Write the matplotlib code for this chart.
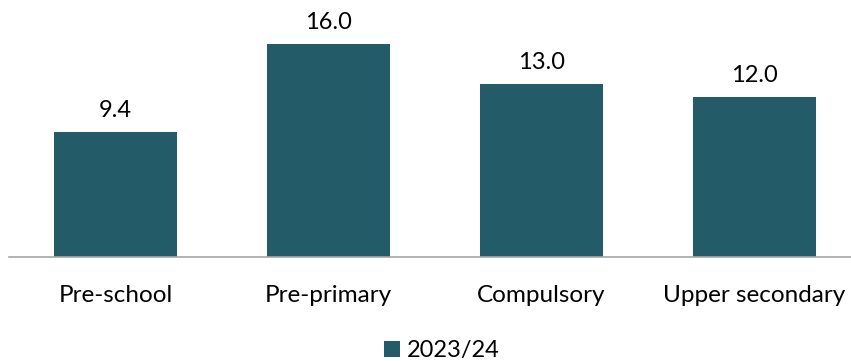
import matplotlib
matplotlib.use("Agg")
import matplotlib.pyplot as plt
import numpy as np

categories = ["Pre-school", "Pre-primary", "Compulsory", "Upper secondary"]
values = [9.4, 16.0, 13.0, 12.0]
series_name = "2023/24"

BAR_COLOR = "#245B69"
plt.rcParams['font.family'] = ['Lato', 'DejaVu Sans']

fig = plt.figure(figsize=(8.51, 3.61), dpi=100)
ax = fig.add_axes([9 / 851, 104 / 361, 852 / 851, 239.4 / 361])

x = np.arange(len(categories))
bars = ax.bar(x, values, width=0.577, color=BAR_COLOR, label=series_name)

for b, v in zip(bars, values):
    ax.text(b.get_x() + b.get_width() / 2, v + 0.85, f"{v:.1f}",
            ha="center", va="bottom", fontsize=17, color="#000000")

ax.set_xlim(-0.5, 3.5)
ax.set_ylim(0, 18)
ax.set_yticks([])
ax.set_xticks(x)
ax.set_xticklabels(categories, fontsize=17.5)
ax.tick_params(axis="x", length=0, pad=20)
for s in ["top", "right", "left"]:
    ax.spines[s].set_visible(False)
ax.spines["bottom"].set_color("#A6A6A6")
ax.spines["bottom"].set_linewidth(1.2)

fig.legend(handles=[bars], labels=[series_name], loc="center",
           bbox_to_anchor=(442 / 851, 1 - 351 / 361), frameon=False,
           fontsize=17, handlelength=0.65, handleheight=0.65, handletextpad=0.3)

fig.savefig("out.png", dpi=100)
